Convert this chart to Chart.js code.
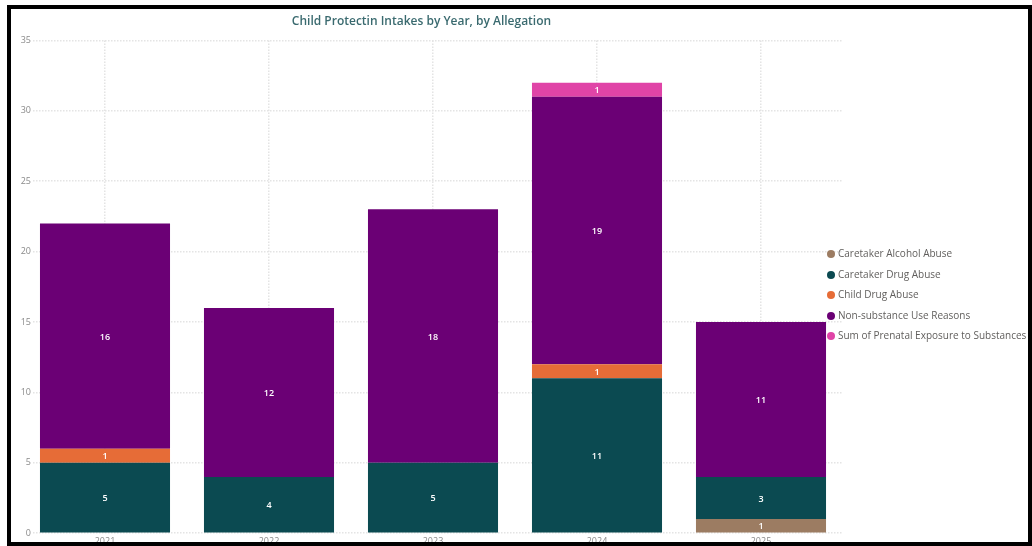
<!DOCTYPE html>
<html>
<head>
<meta charset="utf-8">
<script src="https://cdn.jsdelivr.net/npm/chart.js@4.4.1/dist/chart.umd.min.js"></script>
<style>
  html, body { margin: 0; padding: 0; background: #fff; overflow: hidden; }
  #wrap { position: relative; width: 1032px; height: 546px; overflow: hidden; }
  #chart { position: absolute; left: 0; top: 0; }
  #frame {
    position: absolute; left: 7px; top: 5px; width: 1025px; height: 541px;
    box-sizing: border-box; border: 4px solid #000; pointer-events: none; z-index: 3;
  }
  #legend {
    position: absolute; left: 827px; top: 243px; z-index: 2;
    font-family: "Open Sans", sans-serif; font-size: 10px; color: #605e5c; white-space: nowrap;
  }
  #legend div { height: 20.5px; line-height: 20.5px; }
  #legend span {
    display: inline-block; width: 8px; height: 8px; border-radius: 50%;
    margin-right: 3px; vertical-align: -1px;
  }
</style>
</head>
<body>
<div id="wrap">
  <canvas id="chart" width="1032" height="546"></canvas>
  <div id="legend"></div>
  <div id="frame"></div>
</div>
<script>
const years = ["2021", "2022", "2023", "2024", "2025"];

const alcohol = [null, null, null, null, 1];
const caretakerDrug = [5, 4, 5, 11, 3];
const childDrug = [1, null, null, 1, null];
const nonSubstance = [16, 12, 18, 19, 11];
const prenatal = [null, null, null, 1, null];

const yTicks = [0, 5, 10, 15, 20, 25, 30, 35];

const series = [
    { label: "Caretaker Alcohol Abuse", data: alcohol, color: "#9c7c62" },
    { label: "Caretaker Drug Abuse", data: caretakerDrug, color: "#0b4a51" },
    { label: "Child Drug Abuse", data: childDrug, color: "#e66c37" },
    { label: "Non-substance Use Reasons", data: nonSubstance, color: "#6b0075" },
    { label: "Sum of Prenatal Exposure to Substances", data: prenatal, color: "#e044a7" }
];

// white value labels in the middle of each segment
const segmentLabels = {
    id: 'segmentLabels',
    afterDatasetsDraw(chart) {
        const ctx = chart.ctx;
        ctx.save();
        ctx.fillStyle = '#ffffff';
        ctx.font = '600 9px "Open Sans", sans-serif';
        ctx.textAlign = 'center';
        ctx.textBaseline = 'middle';
        chart.data.datasets.forEach((ds, i) => {
            chart.getDatasetMeta(i).data.forEach((bar, j) => {
                const v = ds.data[j];
                if (v == null) return;
                ctx.fillText(String(v), bar.x, (bar.y + bar.base) / 2 + 1);
            });
        });
        ctx.restore();
    }
};

// the category band starts a little left of the plot area, under the tick labels
const widenX = {
    id: 'widenX',
    afterLayout(chart) {
        const x = chart.scales.x;
        x.left = 23;
        x.width = x.right - x.left;
        x.configure();
    }
};

const ctx = document.getElementById('chart').getContext('2d');
const chart = new Chart(ctx, {
    type: 'bar',
    data: {
        labels: years,
        datasets: series.map(s => ({
            label: s.label,
            data: s.data,
            backgroundColor: s.color,
            borderWidth: 0,
            categoryPercentage: 1,
            barPercentage: 0.793
        }))
    },
    options: {
        responsive: false,
        animation: false,
        layout: { padding: { left: 0, right: 189, top: 0, bottom: -4 } },
        plugins: {
            legend: { display: false },
            tooltip: { enabled: false },
            title: {
                display: true,
                text: 'Child Protectin Intakes by Year, by Allegation',
                color: '#3a6a6f',
                font: { family: 'Open Sans', size: 12, weight: '600' },
                padding: { top: 14, bottom: 12 }
            }
        },
        scales: {
            x: {
                stacked: true,
                grid: {
                    offset: false,
                    color: '#e4e4e4',
                    lineWidth: 1.5,
                    drawTicks: false
                },
                border: { display: false, dash: [1.5, 1.5] },
                ticks: {
                    color: '#8a8a8a',
                    font: { family: 'Open Sans', size: 9 },
                    padding: 3
                }
            },
            y: {
                stacked: true,
                min: 0,
                max: 35,
                afterBuildTicks(scale) {
                    scale.ticks = yTicks.map(v => ({ value: v }));
                },
                afterFit(scale) {
                    scale.width = 33;
                },
                grid: {
                    color: '#e4e4e4',
                    lineWidth: 1.5,
                    drawTicks: false
                },
                border: { display: false, dash: [1.5, 1.5] },
                ticks: {
                    color: '#8a8a8a',
                    font: { family: 'Open Sans', size: 9 },
                    padding: 2
                }
            }
        }
    },
    plugins: [widenX, segmentLabels]
});

// legend built from the chart's datasets
const legend = document.getElementById('legend');
chart.data.datasets.forEach(ds => {
    const row = document.createElement('div');
    const dot = document.createElement('span');
    dot.style.background = ds.backgroundColor;
    row.appendChild(dot);
    row.appendChild(document.createTextNode(ds.label));
    legend.appendChild(row);
});
</script>
</body>
</html>
